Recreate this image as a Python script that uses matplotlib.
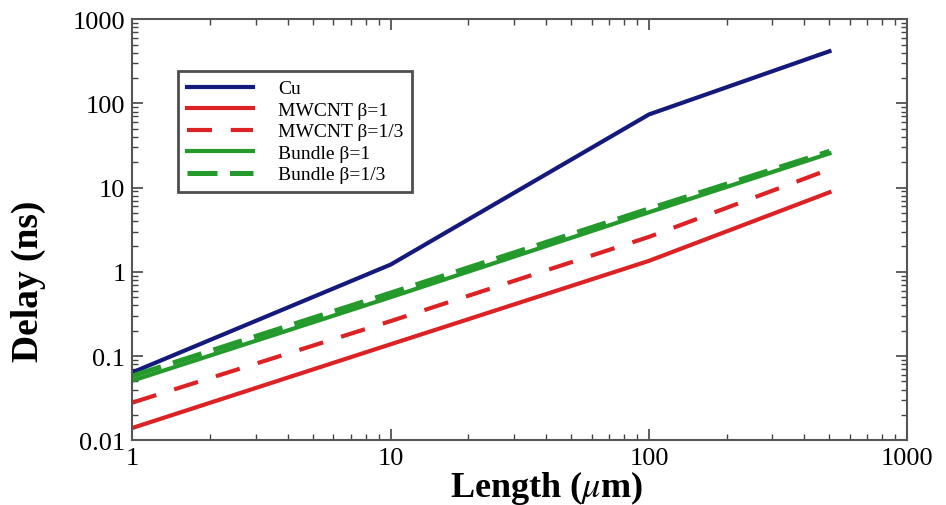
import numpy as np
import matplotlib.pyplot as plt

plt.rcParams['font.family'] = ['Liberation Serif', 'DejaVu Serif']
plt.rcParams['mathtext.fontset'] = 'stix'

# data
length = [1, 10, 100, 500]
cu = [0.064, 1.22, 74, 417]
mwcnt_b1 = [0.014, 0.138, 1.35, 8.8]
mwcnt_b13 = [0.028, 0.26, 2.6, 16.5]
bundle_b1 = [0.051, 0.50, 5.1, 25.5]
bundle_b13 = [0.058, 0.56, 5.6, 27]

navy = '#131a7c'
red = '#dc2224'
green = '#249a2c'

fig = plt.figure(figsize=(9.46, 5.06), dpi=100)
ax = fig.add_axes([0.140, 0.128, 0.819, 0.832])

lw = 3.0
ax.plot(length, cu, color=navy, lw=lw, label='Cu')
ax.plot(length, mwcnt_b1, color=red, lw=lw, label='MWCNT β=1')
ax.plot(length, mwcnt_b13, color=red, lw=lw, dashes=(6, 4.5), label='MWCNT β=1/3')
ax.plot(length, bundle_b1, color=green, lw=lw, label='Bundle β=1')
ax.plot(length, bundle_b13, color=green, lw=lw + 0.6, dashes=(6, 2.5), label='Bundle β=1/3')

ax.set_xscale('log')
ax.set_yscale('log')
ax.set_xlim(1, 1000)
ax.set_ylim(0.01, 1000)
ax.set_xticks([1, 10, 100, 1000])
ax.set_xticklabels(['1', '10', '100', '1000'])
ax.set_yticks([0.01, 0.1, 1, 10, 100, 1000])
ax.set_yticklabels(['0.01', '0.1', '1', '10', '100', '1000'])

ax.tick_params(which='both', direction='in', top=True, right=True,
               labelsize=19, color='#444444')
ax.tick_params(which='major', length=8, width=1.2, pad=5)
ax.tick_params(which='minor', length=4, width=1.0)
for s in ax.spines.values():
    s.set_linewidth(1.5)
    s.set_color('#555555')

ax.set_xlabel(r'Length ($\mu$m)', fontsize=26, fontweight='bold')
ax.set_ylabel('Delay (ns)', fontsize=27, fontweight='bold')
ax.xaxis.set_label_coords(0.535, -0.066)
ax.yaxis.set_label_coords(-0.112, 0.38)

leg = ax.legend(loc='upper left', bbox_to_anchor=(0.059, 0.877), fontsize=14,
                frameon=True, fancybox=False, edgecolor='#222222',
                handlelength=3.4, handletextpad=1.3, borderpad=0.45,
                labelspacing=0.2, borderaxespad=0)
leg.get_frame().set_linewidth(2)

fig.savefig('out.png', dpi=100)
